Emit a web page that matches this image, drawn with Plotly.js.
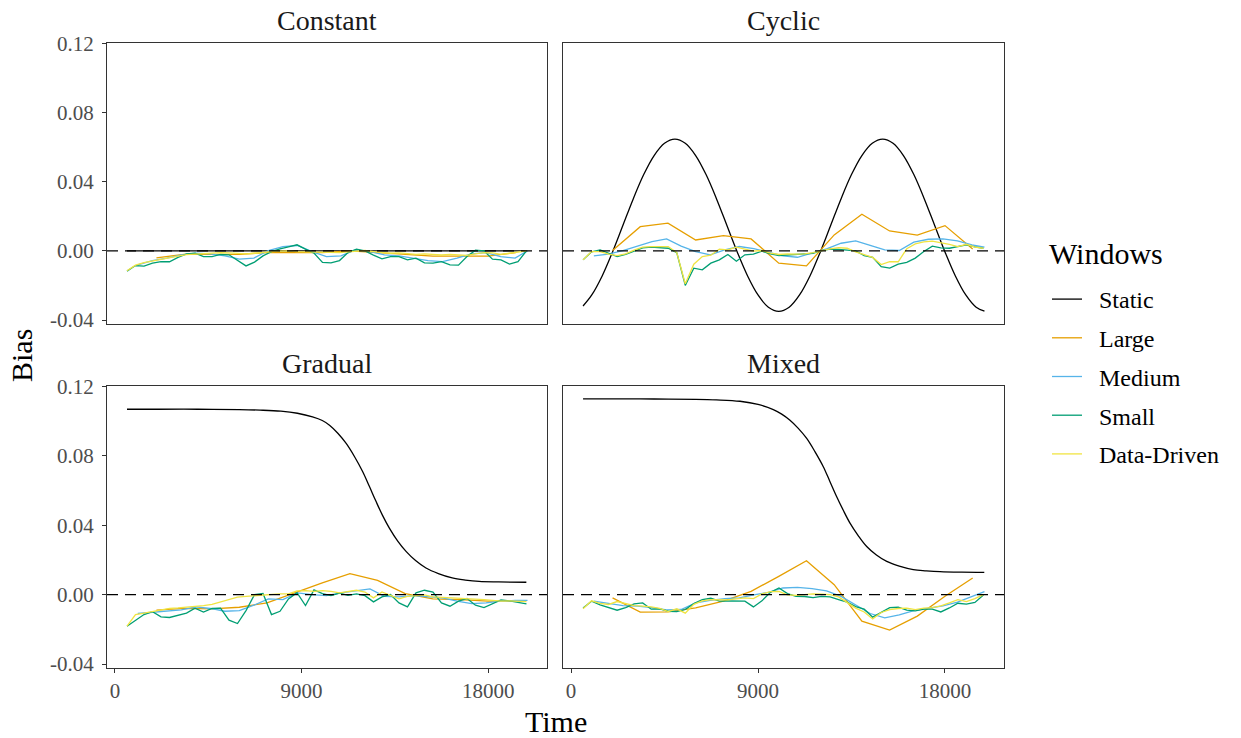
<!DOCTYPE html>
<html>
<head>
<meta charset="utf-8">
<script src="https://cdn.plot.ly/plotly-3.0.1.min.js"></script>
<style>html,body{margin:0;padding:0;background:#fff;}#chart{width:1241px;height:738px;}</style>
</head>
<body>
<div id="chart"></div>
<script>
// ---------- DATA ----------
const panelNames = ["Constant", "Cyclic", "Gradual", "Mixed"];
const seriesNames = ["Static", "Large", "Medium", "Small", "Data-Driven"];
const legendTitle = "Windows";
const xTickVals = [0, 9000, 18000];
const xTickText = ["0", "9000", "18000"];
const yTickVals = [-0.04, 0, 0.04, 0.08, 0.12];
const yTickText = ["-0.04", "0.00", "0.04", "0.08", "0.12"];

const timeSmall = [580, 990, 1400, 1810, 2220, 2630, 3040, 3450, 3860, 4270, 4680, 5090, 5500, 5910, 6320, 6730,
  7140, 7550, 7960, 8370, 8780, 9190, 9600, 10010, 10420, 10830, 11240, 11650, 12060, 12470, 12880, 13290,
  13700, 14110, 14520, 14930, 15340, 15750, 16160, 16570, 16980, 17390, 17800, 18210, 18620, 19030, 19440, 19850];
const timeMedium = [1100, 1800, 2500, 3200, 3900, 4600, 5300, 6000, 6700, 7400, 8100, 8800, 9500, 10200,
  10900, 11600, 12300, 13000, 13700, 14400, 15100, 15800, 16500, 17200, 17900, 18600, 19300, 19900];
const timeLarge = [2000, 3333, 4667, 6000, 7333, 8667, 10000, 11333, 12667, 14000, 15333, 16667, 18000, 19333];

// Static
const timeStaticConstant = [580, 5000, 10000, 15000, 19880];
const staticConstant = [0, 0, 0, 0, 0];
const timeStaticCyclic = [580, 1000, 1500, 2000, 2500, 3000, 3500, 4000, 4500, 5000, 5500, 6000, 6500, 7000, 7500,
  8000, 8500, 9000, 9500, 10000, 10500, 11000, 11500, 12000, 12500, 13000, 13500, 14000, 14500, 15000, 15500,
  16000, 16500, 17000, 17500, 18000, 18500, 19000, 19500, 19900];
const staticCyclic = [-0.0319, -0.0255, -0.0145, -0.0006, 0.0148, 0.0302, 0.0441, 0.0551, 0.0622, 0.0646, 0.0622,
  0.0551, 0.0441, 0.0302, 0.0148, -0.0006, -0.0145, -0.0255, -0.0326, -0.0350, -0.0326, -0.0255, -0.0145, -0.0006,
  0.0148, 0.0302, 0.0441, 0.0551, 0.0622, 0.0646, 0.0622, 0.0551, 0.0441, 0.0302, 0.0148, -0.0006, -0.0145,
  -0.0255, -0.0326, -0.0349];
const timeStaticGradual = [580, 2000, 4000, 6000, 7000, 8000, 8800, 9530, 10000, 10348, 10750, 11152, 11550, 11951,
  12270, 12596, 12900, 13236, 13640, 14040, 14500, 15002, 15600, 16268, 16900, 17567, 18500, 19844];
const staticGradual = [0.1068, 0.1068, 0.1068, 0.1066, 0.1063, 0.1057, 0.1045, 0.1024, 0.1003, 0.0976, 0.0930,
  0.0871, 0.0796, 0.0708, 0.0624, 0.0536, 0.0458, 0.0383, 0.0308, 0.0249, 0.0196, 0.0153, 0.0121, 0.0096, 0.0084,
  0.0076, 0.0073, 0.0071];
const timeStaticMixed = [580, 2000, 4000, 6000, 7000, 8134, 9000, 9737, 10140, 10540, 10940, 11344, 11740, 12143,
  12460, 12788, 13100, 13428, 13830, 14232, 14700, 15195, 15800, 16475, 17100, 17760, 18800, 19892];
const staticMixed = [0.1128, 0.1128, 0.1127, 0.1125, 0.1122, 0.1114, 0.1096, 0.1066, 0.1040, 0.1005, 0.0958,
  0.0900, 0.0824, 0.0737, 0.0652, 0.0564, 0.0487, 0.0412, 0.0339, 0.0277, 0.0228, 0.0191, 0.0164, 0.0144, 0.0137,
  0.0132, 0.0129, 0.0128];

// Large
const largeConstant = [-0.004, -0.002, -0.002, -0.002, -0.001, -0.001, -0.001, 0.000, -0.001, -0.002, -0.003, -0.003, -0.003, -0.001];
const largeCyclic = [0.0002, 0.0140, 0.0160, 0.0063, 0.0088, 0.0069, -0.0071, -0.0087, 0.0092, 0.0212, 0.0115, 0.0091, 0.0146, 0.0010];
const largeGradual = [-0.0090, -0.0079, -0.0082, -0.0073, -0.0048, 0.0010, 0.0067, 0.0121, 0.0082, 0.0006, -0.0025, -0.0029, -0.0038, -0.0038];
const largeMixed = [-0.0019, -0.0101, -0.0100, -0.0077, -0.0038, 0.0019, 0.0105, 0.0195, 0.0057, -0.0153, -0.0205, -0.0124, -0.0010, 0.0096];

// Medium
const mediumConstant = [-0.0081, -0.0056, -0.0042, -0.0023, -0.0013, -0.0017, -0.0029, -0.0048, -0.0042, 0.0002,
  0.0025, 0.0031, -0.0004, -0.0033, -0.0029, 0.0006, -0.0004, -0.0023, -0.0029, -0.0042,
  -0.0056, -0.0062, -0.0042, -0.0017, -0.0010, -0.0033, -0.0042, 0.0000];
const mediumCyclic = [-0.0029, -0.0019, 0.0002, 0.0029, 0.0054, 0.0069, 0.0027, -0.0004, -0.0023, 0.0006,
  0.0025, 0.0013, -0.0006, -0.0029, -0.0037, -0.0013, 0.0012, 0.0044, 0.0058, 0.0031,
  0.0006, 0.0002, 0.0050, 0.0067, 0.0069, 0.0058, 0.0035, 0.0021];
const mediumGradual = [-0.0109, -0.0101, -0.0096, -0.0088, -0.0071, -0.0080, -0.0096, -0.0092, -0.0061, -0.0025,
  -0.0029, 0.0010, 0.0000, -0.0006, 0.0010, 0.0023, 0.0033, -0.0010, -0.0013, -0.0006,
  -0.0011, -0.0019, -0.0038, -0.0052, -0.0048, -0.0038, -0.0034, -0.0033];
const mediumMixed = [-0.0038, -0.0052, -0.0063, -0.0067, -0.0075, -0.0088, -0.0086, -0.0048, -0.0033, -0.0023,
  -0.0019, -0.0002, 0.0013, 0.0038, 0.0042, 0.0034, 0.0021, -0.0010, -0.0061, -0.0109,
  -0.0134, -0.0117, -0.0092, -0.0080, -0.0065, -0.0044, -0.0010, 0.0017];

// Small
const smallConstant = [-0.0117, -0.0085, -0.0088, -0.0071, -0.0062, -0.0063, -0.0038, -0.0017, -0.0013, -0.0033,
  -0.0033, -0.0021, -0.0023, -0.0056, -0.0087, -0.0065, -0.0029, -0.0004, 0.0012, 0.0023,
  0.0035, 0.0010, -0.0013, -0.0067, -0.0069, -0.0056, -0.0010, 0.0010, 0.0000, -0.0025,
  -0.0046, -0.0033, -0.0033, -0.0052, -0.0042, -0.0069, -0.0071, -0.0062, -0.0081, -0.0083,
  -0.0033, 0.0004, 0.0000, -0.0048, -0.0052, -0.0077, -0.0062, 0.0000];
const smallCyclic = [-0.0052, -0.0006, 0.0006, -0.0015, -0.0033, -0.0021, 0.0000, 0.0017, 0.0021, 0.0017,
  0.0015, -0.0010, -0.0200, -0.0100, -0.0110, -0.0071, -0.0052, -0.0021, -0.0060, -0.0023,
  -0.0019, -0.0002, -0.0017, -0.0027, -0.0025, -0.0023, -0.0019, -0.0015, 0.0002, 0.0010,
  0.0008, 0.0004, 0.0000, -0.0027, -0.0038, -0.0092, -0.0100, -0.0077, -0.0067, -0.0042,
  -0.0004, 0.0027, 0.0017, 0.0015, 0.0025, 0.0035, 0.0023, 0.0015];
const smallGradual = [-0.0182, -0.0147, -0.0115, -0.0098, -0.0128, -0.0132, -0.0121, -0.0107, -0.0078, -0.0101,
  -0.0080, -0.0078, -0.0147, -0.0167, -0.0092, 0.0000, 0.0006, -0.0115, -0.0096, -0.0025,
  0.0011, -0.0063, 0.0027, 0.0006, -0.0006, 0.0008, -0.0004, 0.0004, -0.0006, -0.0042,
  -0.0013, 0.0000, -0.0048, -0.0071, 0.0010, 0.0025, 0.0015, -0.0048, -0.0067, -0.0038,
  -0.0023, -0.0061, -0.0075, -0.0054, -0.0031, -0.0036, -0.0044, -0.0054];
const smallMixed = [-0.0077, -0.0038, -0.0059, -0.0075, -0.0090, -0.0075, -0.0054, -0.0048, -0.0084, -0.0082,
  -0.0096, -0.0098, -0.0086, -0.0052, -0.0029, -0.0021, -0.0038, -0.0036, -0.0036, -0.0038,
  -0.0071, -0.0036, 0.0013, 0.0038, 0.0006, -0.0010, -0.0011, -0.0017, -0.0010, -0.0013,
  -0.0029, -0.0044, -0.0069, -0.0084, -0.0130, -0.0101, -0.0075, -0.0073, -0.0090, -0.0094,
  -0.0084, -0.0084, -0.0100, -0.0077, -0.0050, -0.0055, -0.0045, -0.0002];

// Data-Driven
const dataDrivenConstant = [-0.0115, -0.0083, -0.0068, -0.0058, -0.0047, -0.0038, -0.0030, -0.0022, -0.0018, -0.0014,
  -0.0012, -0.0010, -0.0012, -0.0015, -0.0018, -0.0014, -0.0008, -0.0004, -0.0002, 0.0000,
  -0.0004, -0.0006, -0.0008, -0.0010, -0.0012, -0.0010, -0.0006, -0.0002, 0.0002, -0.0004,
  -0.0010, -0.0014, -0.0012, -0.0016, -0.0020, -0.0018, -0.0022, -0.0024, -0.0020, -0.0024,
  -0.0026, -0.0018, -0.0010, -0.0012, -0.0020, -0.0014, -0.0006, 0.0000];
const dataDrivenCyclic = [-0.0052, -0.0004, -0.0004, -0.0019, -0.0027, -0.0017, 0.0004, 0.0021, 0.0025, 0.0025,
  0.0025, -0.0010, -0.0190, -0.0077, -0.0033, -0.0025, 0.0010, 0.0006, 0.0021, 0.0010,
  -0.0002, 0.0002, -0.0013, -0.0021, -0.0017, -0.0019, -0.0017, -0.0010, 0.0002, 0.0012,
  0.0019, 0.0015, -0.0006, -0.0023, -0.0038, -0.0079, -0.0063, -0.0063, 0.0012, 0.0040,
  0.0052, 0.0056, 0.0048, 0.0037, 0.0025, 0.0038, 0.0021, 0.0015];
const dataDrivenGradual = [-0.0182, -0.0115, -0.0107, -0.0098, -0.0090, -0.0080, -0.0077, -0.0073, -0.0069, -0.0063,
  -0.0056, -0.0042, -0.0027, -0.0015, -0.0010, -0.0006, -0.0002, 0.0004, 0.0004, 0.0004,
  0.0021, 0.0023, 0.0019, 0.0023, 0.0019, 0.0010, 0.0017, 0.0025, 0.0015, -0.0019,
  0.0015, -0.0006, -0.0025, -0.0010, -0.0004, -0.0002, -0.0013, -0.0015, -0.0019, -0.0021,
  -0.0025, -0.0027, -0.0029, -0.0033, -0.0038, -0.0036, -0.0038, -0.0040];
const dataDrivenMixed = [-0.0082, -0.0036, -0.0050, -0.0057, -0.0040, -0.0052, -0.0063, -0.0067, -0.0071, -0.0080,
  -0.0098, -0.0082, -0.0107, -0.0056, -0.0036, -0.0029, -0.0031, -0.0031, -0.0025, -0.0019,
  -0.0023, 0.0004, 0.0017, 0.0019, -0.0002, -0.0004, 0.0000, 0.0004, 0.0002, 0.0000,
  -0.0013, -0.0048, -0.0078, -0.0100, -0.0140, -0.0103, -0.0086, -0.0080, -0.0078, -0.0086,
  -0.0078, -0.0075, -0.0065, -0.0048, -0.0029, -0.0040, -0.0023, 0.0000];

// ---------- STYLE / ASSEMBLY ----------
const colors = {"Static": "#000000", "Large": "#E69F00", "Medium": "#56B4E9", "Small": "#009E73", "Data-Driven": "#F0E442"};
const panels = [
  {xa: "x", ya: "y", data: {
    "Static": [timeStaticConstant, staticConstant], "Large": [timeLarge, largeConstant],
    "Medium": [timeMedium, mediumConstant], "Small": [timeSmall, smallConstant], "Data-Driven": [timeSmall, dataDrivenConstant]}},
  {xa: "x2", ya: "y2", data: {
    "Static": [timeStaticCyclic, staticCyclic], "Large": [timeLarge, largeCyclic],
    "Medium": [timeMedium, mediumCyclic], "Small": [timeSmall, smallCyclic], "Data-Driven": [timeSmall, dataDrivenCyclic]}},
  {xa: "x3", ya: "y3", data: {
    "Static": [timeStaticGradual, staticGradual], "Large": [timeLarge, largeGradual],
    "Medium": [timeMedium, mediumGradual], "Small": [timeSmall, smallGradual], "Data-Driven": [timeSmall, dataDrivenGradual]}},
  {xa: "x4", ya: "y4", data: {
    "Static": [timeStaticMixed, staticMixed], "Large": [timeLarge, largeMixed],
    "Medium": [timeMedium, mediumMixed], "Small": [timeSmall, smallMixed], "Data-Driven": [timeSmall, dataDrivenMixed]}}
];

const traces = [];
seriesNames.forEach(function (s) {
  panels.forEach(function (p, i) {
    const d = p.data[s];
    traces.push({
      type: "scatter", mode: "lines", x: d[0], y: d[1], xaxis: p.xa, yaxis: p.ya,
      name: "\u00A0\u00A0" + s, legendgroup: s, showlegend: i === 0,
      line: {color: colors[s], width: 1.3, shape: s === "Static" ? "spline" : "linear"},
      hoverinfo: "x+y"
    });
  });
});

const W = 1241, H = 738;
const FONT = "Liberation Serif, Times New Roman, serif";
const xL = [107 / W, 547 / W], xR = [563 / W, 1004 / W];
const yT = [1 - 324 / H, 1 - 43 / H], yB = [1 - 668 / H, 1 - 386 / H];
const xRange = [-385, 20840], yRange = [-0.0423, 0.1202];

function xax(domain, anchor, showTicks) {
  return {domain: domain, anchor: anchor, range: xRange, showgrid: false, zeroline: false,
    showline: true, mirror: true, linecolor: "#333333", linewidth: 1,
    ticks: showTicks ? "outside" : "", ticklen: 4, tickcolor: "#333333", tickwidth: 1,
    showticklabels: showTicks, tickvals: xTickVals, ticktext: xTickText,
    tickfont: {family: FONT, size: 21, color: "#4d4d4d"}};
}
function yax(domain, anchor, showTicks) {
  return {domain: domain, anchor: anchor, range: yRange, showgrid: false, zeroline: false,
    showline: true, mirror: true, linecolor: "#333333", linewidth: 1,
    ticks: showTicks ? "outside" : "", ticklen: 4, tickcolor: "#333333", tickwidth: 1,
    ticklabelstandoff: 4,
    showticklabels: showTicks, tickvals: yTickVals, ticktext: yTickText,
    tickfont: {family: FONT, size: 21, color: "#4d4d4d"}};
}

const shapes = panels.map(function (p) {
  return {type: "line", xref: p.xa + " domain", yref: p.ya, x0: 0, x1: 1, y0: 0, y1: 0,
    line: {color: "#000000", width: 1.3, dash: "11px,7px"}, layer: "above"};
});

const titlePos = [[(xL[0] + xL[1]) / 2, 1 - 20 / H], [(xR[0] + xR[1]) / 2, 1 - 20 / H],
  [(xL[0] + xL[1]) / 2, 1 - 363 / H], [(xR[0] + xR[1]) / 2, 1 - 363 / H]];
const annotations = panelNames.map(function (n, i) {
  return {text: n, xref: "paper", yref: "paper", x: titlePos[i][0], y: titlePos[i][1],
    xanchor: "center", yanchor: "middle", showarrow: false,
    font: {family: FONT, size: 28, color: "#1a1a1a"}};
});
annotations.push({text: "Time", xref: "paper", yref: "paper", x: 555.5 / W, y: 1 - 721 / H,
  xanchor: "center", yanchor: "middle", showarrow: false, font: {family: FONT, size: 30, color: "#000"}});
annotations.push({text: "Bias", xref: "paper", yref: "paper", x: 22 / W, y: 1 - 356 / H, textangle: -90,
  xanchor: "center", yanchor: "middle", showarrow: false, font: {family: FONT, size: 30, color: "#000"}});
annotations.push({text: legendTitle, xref: "paper", yref: "paper", x: 1047 / W, y: 1 - 253 / H,
  xanchor: "left", yanchor: "middle", showarrow: false, font: {family: FONT, size: 30, color: "#000"}});

const layout = {
  width: W, height: H, margin: {l: 0, r: 0, t: 0, b: 0},
  paper_bgcolor: "#ffffff", plot_bgcolor: "#ffffff",
  font: {family: FONT},
  xaxis: xax(xL, "y", false), yaxis: yax(yT, "x", true),
  xaxis2: xax(xR, "y2", false), yaxis2: yax(yT, "x2", false),
  xaxis3: xax(xL, "y3", true), yaxis3: yax(yB, "x3", true),
  xaxis4: xax(xR, "y4", true), yaxis4: yax(yB, "x4", false),
  shapes: shapes, annotations: annotations,
  showlegend: true,
  legend: {x: 1047 / W, y: 1 - 277 / H, xanchor: "left", yanchor: "top",
    font: {family: FONT, size: 24, color: "#000"}, tracegroupgap: 4.5, itemwidth: 30,
    bgcolor: "rgba(0,0,0,0)", borderwidth: 0}
};

Plotly.newPlot("chart", traces, layout, {displayModeBar: false, staticPlot: false});
</script>
</body>
</html>
